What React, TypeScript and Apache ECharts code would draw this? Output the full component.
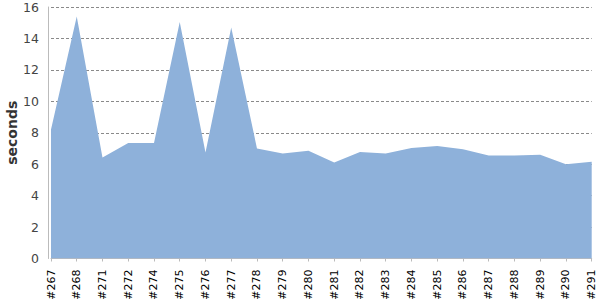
import React, { useEffect, useRef } from "react";
import * as echarts from "echarts";

const categories = ["#267", "#268", "#271", "#272", "#274", "#275", "#276", "#277", "#278", "#279", "#280", "#281", "#282", "#283", "#284", "#285", "#286", "#287", "#288", "#289", "#290", "#291"];
const seconds = [8.2, 15.4, 6.42, 7.35, 7.35, 15.05, 6.75, 14.7, 7.0, 6.68, 6.85, 6.1, 6.78, 6.68, 7.03, 7.15, 6.95, 6.55, 6.55, 6.6, 6.0, 6.15];
const yTicks = { min: 0, max: 16, interval: 2 };

export default function App() {
  const ref = useRef<HTMLDivElement>(null);
  useEffect(() => {
    const chart = echarts.init(ref.current!, null, { renderer: "svg" });
    chart.setOption({
      animation: false,
      textStyle: { fontFamily: "DejaVu Sans" },
      grid: { left: 51, right: 8.3, top: 7, bottom: 41.5, containLabel: false, outerBoundsMode: "none" },
      xAxis: {
        type: "category",
        data: categories,
        boundaryGap: false,
        offset: 5,
        axisLine: { lineStyle: { color: "#bbbbbb", width: 1 } },
        axisTick: { alignWithLabel: true, length: 3, lineStyle: { color: "#bbbbbb" } },
        axisLabel: { rotate: 90, interval: 0, color: "#000", fontSize: 11, margin: 6, fontFamily: "DejaVu Sans" },
        splitLine: { show: false },
      },
      yAxis: {
        type: "value",
        min: yTicks.min,
        max: yTicks.max,
        interval: yTicks.interval,
        offset: 3,
        name: "seconds",
        nameLocation: "middle",
        nameGap: 29,
        nameMoveOverlap: false,
        nameTextStyle: { fontSize: 14, fontWeight: "bold", color: "#333", fontFamily: "DejaVu Sans" },
        axisLine: { show: true, lineStyle: { color: "#bbbbbb" } },
        axisTick: { show: false },
        axisLabel: { color: "#444", fontSize: 12.5, margin: 9, fontFamily: "DejaVu Sans" },
        splitLine: { show: true, lineStyle: { color: "#8a8a8a", type: [3, 2], width: 1 } },
      },
      series: [
        {
          type: "line",
          data: seconds,
          symbol: "none",
          lineStyle: { width: 0 },
          areaStyle: { color: "#8eb1da", opacity: 1 },
          z: 1,
        },
      ],
    });
    return () => chart.dispose();
  }, []);
  return <div ref={ref} style={{ width: 600, height: 300, position: "absolute", left: 0, top: 0 }} />;
}
